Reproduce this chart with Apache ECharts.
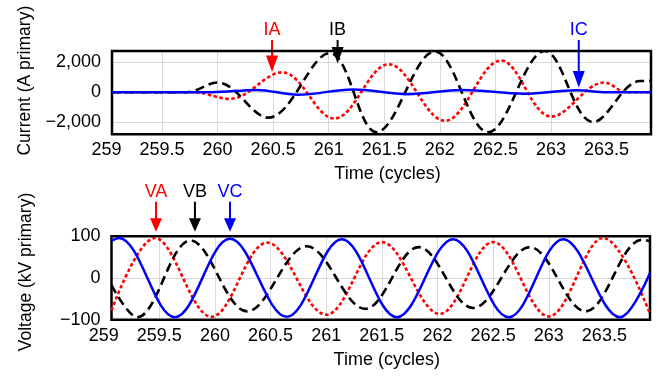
<!DOCTYPE html>
<html>
<head>
<meta charset="utf-8">
<title>Current and voltage waveforms</title>
<script src="https://cdn.jsdelivr.net/npm/echarts@6/dist/echarts.min.js"></script>
<style>
  html, body { margin: 0; padding: 0; background: #fff; }
  #chart { width: 667px; height: 377px; }
</style>
</head>
<body>
<div id="chart"></div>
<script>
// peaks and troughs (time in cycles, current in A primary)
const iaPoints = [
  [259.05, 0], [259.78, 0], [260.11, -440], [260.58, 1310], [261.05, -1740], [261.54, 1850],
  [262.045, -1890], [262.55, 2090], [263.005, -1610], [263.48, 640], [263.68, 0], [263.9, 0]
];
const ibPoints = [
  [259.05, 0], [259.72, 0], [260.0, 640], [260.455, -1680], [261.01, 2580], [261.43, -2640],
  [261.955, 2690], [262.435, -2640], [262.945, 2720], [263.38, -1980], [263.80, 740], [263.9, 745]
];
const icPoints = [
  [259.05, 0], [259.95, 0], [260.35, 150], [260.72, -170], [261.22, 180], [261.71, -130],
  [262.2, 150], [262.76, -100], [263.23, 130], [263.5, 0], [263.9, 0]
];

// voltage in kV primary
const vaPoints = [
  [259.07, -78], [259.46, 96], [259.97, -93], [260.47, 85], [261.0, -88], [261.5, 86],
  [262.02, -86], [262.5, 86], [263.0, -92], [263.49, 96], [263.91, -86]
];
const vbPoints = [
  [259.07, -17], [259.3, -94], [259.78, 90], [260.29, -80], [260.825, 76], [261.35, -74],
  [261.83, 74], [262.32, -72], [262.83, 74], [263.33, -80], [263.84, 92], [263.91, 88]
];
const vcPoints = [
  [259.07, 89], [259.135, 96], [259.64, -94], [260.135, 94], [260.645, -93], [261.14, 93],
  [261.635, -94], [262.14, 93], [262.64, -94], [263.13, 93], [263.64, -94], [263.91, 12]
];

const timeTicks = [259, 259.5, 260, 260.5, 261, 261.5, 262, 262.5, 263, 263.5];
const currentTicks = [-2000, 0, 2000];
const voltageTicks = [-100, 0, 100];

const currentTags = [
  { label: 'IA', color: '#ff0000', t: 260.49, tip: 1340 },
  { label: 'IB', color: '#000000', t: 261.08, tip: 1890 },
  { label: 'IC', color: '#0000ff', t: 263.25, tip: 310 }
];
const voltageTags = [
  { label: 'VA', color: '#ff0000', t: 259.47, tip: 111 },
  { label: 'VB', color: '#000000', t: 259.82, tip: 111 },
  { label: 'VC', color: '#0000ff', t: 260.135, tip: 111 }
];

const FONT = '"Liberation Sans", Arial, sans-serif';
const RED = '#ff0000', BLACK = '#000000', BLUE = '#0000ff';
const GRIDLINE = '#d9d9d9';

const topGrid = { left: 112, right: 16, top: 51, height: 83.3 };
const bottomGrid = { left: 111.5, right: 17, top: 236.3, height: 83.4 };
const topRange = { tMin: 259.05, tMax: 263.9, min: -2780, max: 2720 };
const bottomRange = { tMin: 259.07, tMax: 263.91, min: -100, max: 100 };

// the first time label (259) sits just left of the frame, so labels live on a wider twin grid
function labelGrid(g, r) {
  const w = 667 - g.left - g.right;
  const left = g.left - (r.tMin - timeTicks[0]) * w / (r.tMax - r.tMin);
  return { left: left, right: g.right, top: g.top, height: g.height, show: false };
}

function fmt(v) {
  return (v < 0 ? '\u2212' : '') + Math.abs(v).toLocaleString('en-US');
}

function dataX(gridIndex, r) {
  return {
    gridIndex: gridIndex, type: 'value', min: r.tMin, max: r.tMax,
    axisLine: { show: false }, axisTick: { show: false },
    axisLabel: { show: false }, splitLine: { show: false },
    name: 'Time (cycles)', nameLocation: 'middle', nameGap: 31,
    nameTextStyle: { fontSize: 18, color: '#000', fontFamily: FONT, padding: [0, 0, 0, 12] }
  };
}

function labelX(gridIndex, r) {
  return {
    gridIndex: gridIndex, type: 'value', min: timeTicks[0], max: r.tMax, interval: 0.5,
    axisLine: { show: false },
    axisTick: { show: false, customValues: timeTicks },
    axisLabel: { customValues: timeTicks, fontSize: 18, color: '#000', fontFamily: FONT, margin: 7 },
    splitLine: { show: true, showMinLine: false, showMaxLine: false, lineStyle: { color: GRIDLINE, width: 1 } }
  };
}

function dataY(gridIndex, r, ticks, name, shift) {
  return {
    gridIndex: gridIndex, type: 'value', min: r.min, max: r.max,
    axisLine: { show: false },
    axisTick: { show: false, customValues: ticks },
    axisLabel: { customValues: ticks, formatter: fmt, fontSize: 18, color: '#000', fontFamily: FONT, margin: 11 },
    splitLine: { show: true, lineStyle: { color: GRIDLINE, width: 1 } },
    name: name, nameLocation: 'middle', nameGap: 76,
    nameTextStyle: { fontSize: 17.5, color: '#000', fontFamily: FONT, padding: [0, 0, 0, shift] }
  };
}

// with only extrema as points, a smooth factor near 0.364 bends each half wave like a sine
function wave(idx, data, color, type) {
  return {
    type: 'line', xAxisIndex: idx, yAxisIndex: idx, data: data,
    smooth: 0.364, symbol: 'none', silent: true,
    lineStyle: { color: color, width: type === 'solid' ? 2.5 : 2.6, type: type, cap: 'butt' }
  };
}

const chart = echarts.init(document.getElementById('chart'));
chart.setOption({
  animation: false,
  backgroundColor: '#fff',
  grid: [
    Object.assign({ show: true, borderColor: '#000', borderWidth: 2.5, z: 3 }, topGrid),
    labelGrid(topGrid, topRange),
    Object.assign({ show: true, borderColor: '#000', borderWidth: 2.5, z: 3 }, bottomGrid),
    labelGrid(bottomGrid, bottomRange)
  ],
  xAxis: [dataX(0, topRange), labelX(1, topRange), dataX(2, bottomRange), labelX(3, bottomRange)],
  yAxis: [
    dataY(0, topRange, currentTicks, 'Current (A primary)', 24),
    { gridIndex: 1, show: false, min: topRange.min, max: topRange.max },
    dataY(2, bottomRange, voltageTicks, 'Voltage (kV primary)', 12),
    { gridIndex: 3, show: false, min: bottomRange.min, max: bottomRange.max }
  ],
  series: [
    wave(0, iaPoints, RED, [3.5, 2.5]),
    wave(0, ibPoints, BLACK, [9, 5]),
    wave(0, icPoints, BLUE, 'solid'),
    wave(2, vaPoints, RED, [3.5, 2.5]),
    wave(2, vbPoints, BLACK, [9, 5]),
    wave(2, vcPoints, BLUE, 'solid')
  ]
});

// arrows with phase labels
function tagGraphics(gridIndex, tags, g, textAbove, tailAbove, headLen) {
  const out = [];
  tags.forEach(function (tag) {
    const p = chart.convertToPixel({ gridIndex: gridIndex }, [tag.t, tag.tip]);
    const x = p[0], tipY = p[1];
    const tailY = g.top - tailAbove;
    const headY = tipY - headLen;
    out.push({
      type: 'text', x: x, y: g.top - textAbove, silent: true,
      style: { text: tag.label, fill: tag.color, font: '18px ' + FONT, align: 'center', verticalAlign: 'middle' }
    });
    out.push({
      type: 'line', silent: true,
      shape: { x1: x, y1: tailY, x2: x, y2: headY + 1 },
      style: { stroke: tag.color, lineWidth: 2 }
    });
    out.push({
      type: 'polygon', silent: true,
      shape: { points: [[x - 6, headY], [x + 6, headY], [x, tipY]] },
      style: { fill: tag.color }
    });
  });
  return out;
}

chart.setOption({
  graphic: tagGraphics(0, currentTags, topGrid, 21, 11, 16.5)
    .concat(tagGraphics(2, voltageTags, bottomGrid, 44.6, 34.6, 13.5))
});
</script>
</body>
</html>
